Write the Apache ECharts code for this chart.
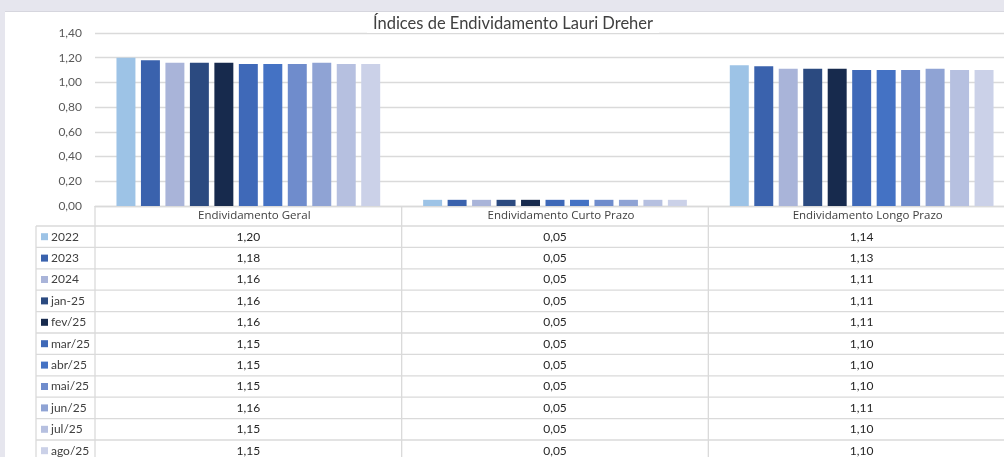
<!DOCTYPE html>
<html>
<head>
<meta charset="utf-8">
<script src="https://cdn.jsdelivr.net/npm/echarts@6/dist/echarts.min.js"></script>
<style>
  html, body { margin: 0; padding: 0; width: 1004px; height: 457px; overflow: hidden; background: #e6e6ee; }
  #sheet { position: absolute; left: 5px; top: 11px; right: 0; bottom: 0; background: #ffffff; border-top: 1px solid #d6d6de; }
  #chart { position: absolute; left: 0; top: 0; width: 1020px; height: 457px; }
</style>
</head>
<body>
<div id="sheet"></div>
<div id="chart"></div>
<script>
// Indicator groups on the category axis
const categories = ['Endividamento Geral', 'Endividamento Curto Prazo', 'Endividamento Longo Prazo'];
// One series per period
const periods = ['2022', '2023', '2024', 'jan-25', 'fev/25', 'mar/25', 'abr/25', 'mai/25', 'jun/25', 'jul/25', 'ago/25'];
const geral = [1.20, 1.18, 1.16, 1.16, 1.16, 1.15, 1.15, 1.15, 1.16, 1.15, 1.15];
const curto = [0.05, 0.05, 0.05, 0.05, 0.05, 0.05, 0.05, 0.05, 0.05, 0.05, 0.05];
const longo = [1.14, 1.13, 1.11, 1.11, 1.11, 1.10, 1.10, 1.10, 1.11, 1.10, 1.10];
const yMin = 0, yMax = 1.4, yStep = 0.2;
const palette = ['#9dc3e6', '#3a62ad', '#a9b4d9', '#2b4a80', '#172a4d', '#3f69b8',
                 '#4472c4', '#6f8ccc', '#8fa3d4', '#b6c0e0', '#cbd1e8'];

const FONT = 'Lato, "Open Sans", sans-serif';
const WIDE = '"Open Sans", Lato, sans-serif';
const LINE = '#dadada';
const fmt = v => v.toFixed(2).replace('.', ',');

const chart = echarts.init(document.getElementById('chart'), null, { renderer: 'canvas' });

const series = periods.map((p, i) => ({
  name: p,
  type: 'bar',
  data: [geral[i], curto[i], longo[i]],
  itemStyle: { color: palette[i] },
  barGap: '29%',
  barCategoryGap: '14%',
  z: 2
}));

chart.setOption({
  animation: false,
  title: {
    text: 'Índices de Endividamento Lauri Dreher',
    left: 507, top: 14, textAlign: 'center',
    padding: [1, 6, 1, 6],
    backgroundColor: '#ffffff',
    z: 10,
    textStyle: { fontFamily: FONT, fontSize: 16.5, fontWeight: 'normal', color: '#404040' }
  },
  grid: { left: 95, top: 33, width: 920, height: 173 },
  xAxis: {
    type: 'category',
    data: categories,
    axisLine: { show: true, lineStyle: { color: LINE, width: 1.3 } },
    axisTick: { show: false },
    axisLabel: { fontFamily: WIDE, fontSize: 11.5, color: '#404040', margin: 10, verticalAlign: 'middle', padding: [0, 0, 0, 12] },
    splitLine: { show: false }
  },
  yAxis: {
    type: 'value',
    min: yMin, max: yMax, interval: yStep,
    axisLine: { show: false },
    axisTick: { show: false },
    axisLabel: { fontFamily: FONT, fontSize: 12, color: '#595959', margin: 13, formatter: fmt },
    splitLine: { lineStyle: { color: LINE, width: 1.3 } }
  },
  series: series
});

// Data table under the plot, laid out from the axis scales
function drawTable() {
  const c0 = chart.convertToPixel({ xAxisIndex: 0 }, 0);
  const c1 = chart.convertToPixel({ xAxisIndex: 0 }, 1);
  const band = c1 - c0;
  const centers = categories.map((_, k) => chart.convertToPixel({ xAxisIndex: 0 }, k));
  const bounds = [centers[0] - band / 2].concat(centers.map(c => c + band / 2));
  const yTop = chart.convertToPixel({ yAxisIndex: 0 }, yMin);
  const headerH = 20;
  const rowH = 21.4;
  const keyX = 36;
  const rows0 = yTop + headerH;
  const bottom = 470;
  const g = [];
  const line = (x1, y1, x2, y2) => g.push({
    type: 'line', silent: true, z: 5,
    shape: { x1, y1, x2, y2 },
    style: { stroke: LINE, lineWidth: 1.3 }
  });
  // vertical rules
  line(keyX, rows0, keyX, bottom);
  bounds.forEach(x => line(x, yTop, x, bottom));
  // horizontal rules
  for (let r = 0; r <= periods.length; r++) {
    const y = rows0 + r * rowH;
    line(keyX, y, 1020, y);
  }
  const cols = [geral, curto, longo];
  periods.forEach((p, r) => {
    const cy = rows0 + r * rowH + rowH / 2;
    g.push({
      type: 'rect', silent: true, z: 6,
      shape: { x: keyX + 5, y: cy - 3.5, width: 7, height: 7 },
      style: { fill: palette[r] }
    });
    g.push({
      type: 'text', silent: true, z: 6,
      x: keyX + 15, y: cy,
      style: { text: p, fontFamily: FONT, fontSize: 12, fill: '#404040', align: 'left', verticalAlign: 'middle' }
    });
    cols.forEach((vals, k) => {
      g.push({
        type: 'text', silent: true, z: 6,
        x: centers[k], y: cy,
        style: { text: fmt(vals[r]), fontFamily: FONT, fontSize: 12, fill: '#262626', align: 'center', verticalAlign: 'middle' }
      });
    });
  });
  chart.setOption({ graphic: g });
}
drawTable();
</script>
</body>
</html>
